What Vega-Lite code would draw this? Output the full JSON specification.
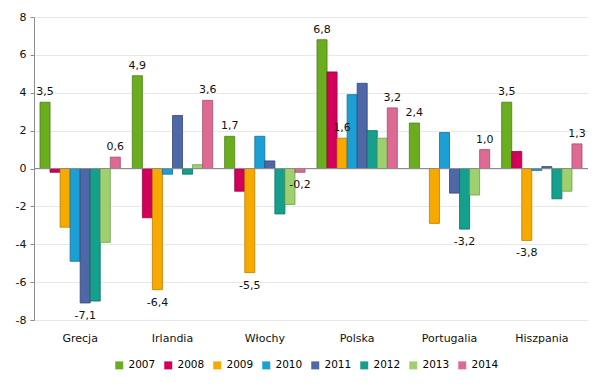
{
  "$schema": "https://vega.github.io/schema/vega-lite/v6.json",
  "width": 554,
  "height": 303,
  "autosize": {"type": "none"},
  "padding": {"left": 34, "top": 17, "right": 22, "bottom": 68},
  "background": "white",
  "config": {
    "view": {"stroke": null},
    "font": "DejaVu Sans",
    "axis": {"labelFont": "DejaVu Sans", "labelColor": "#111111"},
    "legend": {"labelFont": "DejaVu Sans"}
  },
  "data": {
    "values": [
      {"country": "Grecja", "year": "2007", "value": 3.5, "label": "3,5"},
      {"country": "Grecja", "year": "2008", "value": -0.2, "label": null},
      {"country": "Grecja", "year": "2009", "value": -3.1, "label": null},
      {"country": "Grecja", "year": "2010", "value": -4.9, "label": null},
      {"country": "Grecja", "year": "2011", "value": -7.1, "label": "-7,1"},
      {"country": "Grecja", "year": "2012", "value": -7.0, "label": null},
      {"country": "Grecja", "year": "2013", "value": -3.9, "label": null},
      {"country": "Grecja", "year": "2014", "value": 0.6, "label": "0,6"},
      {"country": "Irlandia", "year": "2007", "value": 4.9, "label": "4,9"},
      {"country": "Irlandia", "year": "2008", "value": -2.6, "label": null},
      {"country": "Irlandia", "year": "2009", "value": -6.4, "label": "-6,4"},
      {"country": "Irlandia", "year": "2010", "value": -0.3, "label": null},
      {"country": "Irlandia", "year": "2011", "value": 2.8, "label": null},
      {"country": "Irlandia", "year": "2012", "value": -0.3, "label": null},
      {"country": "Irlandia", "year": "2013", "value": 0.2, "label": null},
      {"country": "Irlandia", "year": "2014", "value": 3.6, "label": "3,6"},
      {"country": "Włochy", "year": "2007", "value": 1.7, "label": "1,7"},
      {"country": "Włochy", "year": "2008", "value": -1.2, "label": null},
      {"country": "Włochy", "year": "2009", "value": -5.5, "label": "-5,5"},
      {"country": "Włochy", "year": "2010", "value": 1.7, "label": null},
      {"country": "Włochy", "year": "2011", "value": 0.4, "label": null},
      {"country": "Włochy", "year": "2012", "value": -2.4, "label": null},
      {"country": "Włochy", "year": "2013", "value": -1.9, "label": null},
      {"country": "Włochy", "year": "2014", "value": -0.2, "label": "-0,2"},
      {"country": "Polska", "year": "2007", "value": 6.8, "label": "6,8"},
      {"country": "Polska", "year": "2008", "value": 5.1, "label": null},
      {"country": "Polska", "year": "2009", "value": 1.6, "label": "1,6"},
      {"country": "Polska", "year": "2010", "value": 3.9, "label": null},
      {"country": "Polska", "year": "2011", "value": 4.5, "label": null},
      {"country": "Polska", "year": "2012", "value": 2.0, "label": null},
      {"country": "Polska", "year": "2013", "value": 1.6, "label": null},
      {"country": "Polska", "year": "2014", "value": 3.2, "label": "3,2"},
      {"country": "Portugalia", "year": "2007", "value": 2.4, "label": "2,4"},
      {"country": "Portugalia", "year": "2008", "value": 0.0, "label": null},
      {"country": "Portugalia", "year": "2009", "value": -2.9, "label": null},
      {"country": "Portugalia", "year": "2010", "value": 1.9, "label": null},
      {"country": "Portugalia", "year": "2011", "value": -1.3, "label": null},
      {"country": "Portugalia", "year": "2012", "value": -3.2, "label": "-3,2"},
      {"country": "Portugalia", "year": "2013", "value": -1.4, "label": null},
      {"country": "Portugalia", "year": "2014", "value": 1.0, "label": "1,0"},
      {"country": "Hiszpania", "year": "2007", "value": 3.5, "label": "3,5"},
      {"country": "Hiszpania", "year": "2008", "value": 0.9, "label": null},
      {"country": "Hiszpania", "year": "2009", "value": -3.8, "label": "-3,8"},
      {"country": "Hiszpania", "year": "2010", "value": -0.1, "label": null},
      {"country": "Hiszpania", "year": "2011", "value": 0.1, "label": null},
      {"country": "Hiszpania", "year": "2012", "value": -1.6, "label": null},
      {"country": "Hiszpania", "year": "2013", "value": -1.2, "label": null},
      {"country": "Hiszpania", "year": "2014", "value": 1.3, "label": "1,3"}
    ]
  },
  "encoding": {
    "x": {
      "field": "country",
      "type": "nominal",
      "sort": null,
      "scale": {"paddingInner": 0.13, "paddingOuter": 0.065},
      "axis": {"title": null, "labelAngle": 0, "domain": false, "ticks": false, "labelFontSize": 11, "labelPadding": 12}
    },
    "xOffset": {"field": "year", "type": "nominal", "scale": {"paddingInner": 0, "paddingOuter": 0}},
    "y": {
      "field": "value",
      "type": "quantitative",
      "scale": {"domain": [-8, 8], "nice": false},
      "axis": {
        "title": null,
        "values": [-8, -6, -4, -2, 0, 2, 4, 6, 8],
        "labelExpr": "replace(datum.label, '\u2212', '-')",
        "labelFontSize": 11,
        "domainColor": "#8c8c8c",
        "tickColor": "#8c8c8c",
        "tickSize": 4,
        "gridColor": "#e8e8e8",
        "labelPadding": 4
      }
    }
  },
  "layer": [
    {
      "mark": {"type": "bar", "strokeWidth": 0.8},
      "encoding": {
        "color": {
          "field": "year",
          "type": "nominal",
          "scale": {"range": ["#6aae1f", "#d2005a", "#f7a900", "#1c9fd4", "#4e67a6", "#14a08d", "#9fd070", "#dc6a92"]},
          "legend": {
            "title": null,
            "orient": "none",
            "direction": "horizontal",
            "legendX": 80,
            "legendY": 343,
            "symbolType": "square",
            "symbolSize": 64,
            "symbolStrokeWidth": 0,
            "labelFontSize": 10.5,
            "labelOffset": 4,
            "columnPadding": 7,
            "symbolOpacity": 1
          }
        },
        "stroke": {
          "field": "year",
          "type": "nominal",
          "scale": {"range": ["#4a7d12", "#9a0040", "#c07f00", "#116f98", "#344775", "#0b7063", "#6f9e4a", "#a84a6c"]},
          "legend": null
        }
      }
    },
    {
      "mark": {"type": "rule", "color": "#8c8c8c", "strokeWidth": 1},
      "encoding": {"y": {"datum": 0}, "x": {}, "xOffset": {}}
    },
    {
      "transform": [{"filter": "datum.label != null && datum.value >= 0"}],
      "mark": {"type": "text", "baseline": "bottom", "dy": -5, "fontSize": 11, "color": "#111111"},
      "encoding": {"text": {"field": "label"}}
    },
    {
      "transform": [{"filter": "datum.label != null && datum.value < 0"}],
      "mark": {"type": "text", "baseline": "top", "dy": 7, "fontSize": 11, "color": "#111111"},
      "encoding": {"text": {"field": "label"}}
    }
  ]
}
